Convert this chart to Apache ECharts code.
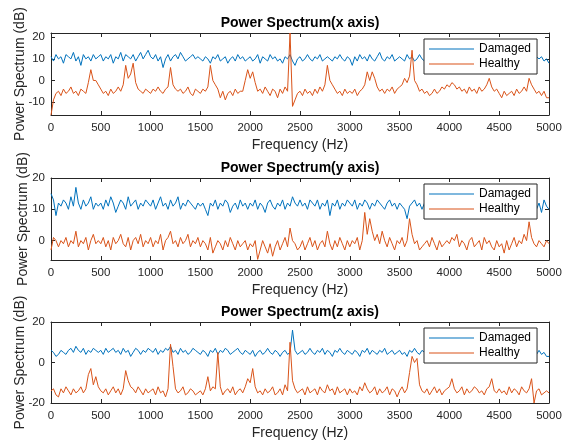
<!DOCTYPE html>
<html>
<head>
<meta charset="utf-8">
<script src="https://cdn.jsdelivr.net/npm/echarts@6/dist/echarts.min.js"></script>
<style>
  html, body { margin: 0; padding: 0; background: #fff; }
  #chart { width: 564px; height: 444px; }
</style>
</head>
<body>
<div id="chart"></div>
<script>
// frequency grid: one value every 25 Hz, 0 .. 5000 Hz
const FREQ_STEP = 25
const TITLES = ['Power Spectrum(x axis)', 'Power Spectrum(y axis)', 'Power Spectrum(z axis)']
const SERIES_NAMES = ['Damaged', 'Healthy']
const Y_TICKS = [[-10, 0, 10, 20], [0, 10, 20], [-20, 0, 20]]
const Y_RANGE = [[-16, 22], [-6.2, 20], [-20, 20]]

// x axis spectrum (dB)
const xDamaged = [
  11, 9, 12, 10, 11, 8, 12, 11, 10, 13, 9, 11, 7, 12, 10, 11, 9, 12, 10, 11,
  12, 9, 11, 10, 12, 8, 11, 10, 13, 9, 12, 11, 10, 12, 9, 11, 13, 10, 12, 14,
  11, 10, 12, 9, 11, 6, 10, 12, 9, 11, 12, 10, 13, 11, 9, 10, 11, 12, 10, 11,
  10, 9, 11, 10, 8, 11, 10, 12, 9, 10, 11, 8, 10, 11, 9, 12, 10, 11, 9, 10,
  11, 9, 10, 12, 8, 11, 10, 9, 12, 10, 11, 9, 10, 8, 11, 10, 12, 9, 7, 10,
  11, 9, 10, 12, 10, 9, 11, 10, 12, 9, 10, 11, 10, 9, 11, 10, 12, 10, 9, 11,
  10, 7, 11, 9, 12, 10, 11, 9, 12, 10, 9, 11, 13, 10, 9, 11, 10, 12, 9, 10,
  11, 10, 9, 12, 10, 11, 9, 10, 12, 10, 9, 11, 10, 12, 9, 11, 10, 12, 10, 11,
  10, 12, 9, 11, 10, 12, 9, 11, 10, 12, 9, 11, 10, 12, 10, 9, 11, 10, 12, 10,
  11, 9, 12, 10, 11, 9, 12, 10, 11, 10, 12, 9, 11, 10, 12, 11, 10, 11, 9, 10,
  8
]
const xHealthy = [
  -16, -9, -6, -5, -7, -4, -6, -5, -3, -6, -5, -7, -4, -5, -6, -1, 5, 0, 0, -2,
  -4, -6, -5, -7, -4, -6, -5, -3, -5, -2, 7, 1, 3, 8, -1, -4, -5, -6, -4, -5,
  -6, -4, -5, -3, -5, -6, -4, -3, 6, -2, -4, -5, -4, -6, -5, -3, -6, -7, -4, -5,
  -6, -4, -5, -3, 7, 0, -2, -4, -8, -5, -9, -6, -5, -7, -4, -6, -5, -5, 0, 5,
  1, 4, -1, -5, -4, -6, -3, -5, -7, -4, -5, -8, -4, -6, -3, -5, 22, -12, -9, -6,
  -5, -7, -4, -6, -5, -7, -4, -6, -3, -5, -2, 7, 0, -2, -4, -6, -5, -7, -4, -6,
  -5, -6, -4, -7, -5, -4, -2, 4, 0, 4, 1, -3, -5, -4, -6, -4, -5, -3, -6, -4,
  -3, -2, 1, -1, 2, 14, 0, -2, -5, -4, -6, -5, -7, -6, -4, -6, -5, -3, -4, -2,
  -3, -1, -2, -4, -3, -5, -4, -6, -3, -5, -4, -6, -3, -5, -4, -2, 1, -3, -5, -4,
  -6, -8, -5, -7, -6, -5, -7, -4, -6, -5, -3, -5, 1, -2, -4, -6, -5, -7, -5, -8,
  -8
]

// y axis spectrum (dB)
const yDamaged = [
  15, 13, 8, 12, 11, 13, 12, 10, 14, 11, 17, 12, 10, 13, 11, 12, 14, 10, 12, 11,
  12, 10, 13, 11, 14, 12, 9, 11, 13, 12, 10, 14, 11, 12, 13, 10, 12, 11, 13, 12,
  11, 13, 10, 12, 14, 11, 12, 10, 13, 11, 12, 14, 10, 12, 11, 13, 12, 11, 10, 12,
  11, 12, 10, 8, 12, 11, 13, 10, 12, 11, 13, 12, 9, 11, 12, 10, 13, 11, 12, 10,
  12, 11, 13, 10, 12, 11, 9, 12, 13, 11, 10, 12, 11, 13, 10, 12, 11, 14, 12, 11,
  13, 11, 12, 10, 13, 12, 11, 13, 10, 12, 11, 13, 8, 12, 11, 13, 10, 12, 11, 13,
  12, 11, 13, 10, 12, 11, 13, 12, 10, 12, 11, 13, 12, 11, 10, 12, 13, 11, 12, 10,
  12, 11, 10, 7, 11, 12, 13, 11, 12, 10, 12, 11, 13, 12, 11, 10, 12, 11, 13, 12,
  11, 12, 10, 13, 11, 12, 10, 12, 11, 13, 12, 10, 11, 12, 13, 11, 10, 12, 11, 13,
  12, 11, 13, 10, 12, 11, 12, 10, 13, 11, 12, 10, 11, 13, 12, 10, 12, 9, 13, 11,
  10
]
const yHealthy = [
  -3, 1, 0, -2, 0, -1, 1, -2, 0, -1, 3, -2, 0, -1, 1, -3, 0, 2, -1, 0,
  -1, 1, -2, 0, -3, 1, -1, 0, 2, -1, -2, 1, -3, 0, 1, -1, 2, -2, 0, -1,
  1, -2, 0, -1, 2, -3, 0, 1, 3, -1, 0, -2, 1, -1, 0, 2, -2, 0, -1, 1,
  -2, 0, -1, -3, 1, -4, -2, 0, -1, -3, 0, -2, 1, -1, -3, 0, -2, -1, 0, -3,
  -1, -2, 0, -6, -3, 0, -2, -4, -1, -5, -2, 0, -3, -1, 1, -2, 4, 0, -1, -3,
  -2, 0, -3, -1, 1, -2, 0, -3, -1, 0, -2, 3, -1, -3, 0, -2, 1, -1, -3, 0,
  -2, 0, -1, 1, -3, 0, 9, 2, 7, 3, 0, 2, -1, 3, 0, -2, 1, -1, -3, 0,
  -1, 1, -2, 0, 7, 2, -1, 0, -3, -2, -1, 0, -2, 1, -1, -3, 0, -2, -1, 0,
  -1, 1, 0, 2, -2, 0, -1, -3, 0, 1, -2, -1, 0, -3, 1, -1, 0, -2, -3, 0,
  -2, -1, -4, 0, -3, -1, 1, -2, 0, -1, 2, 0, 6, 1, -1, -2, 0, -1, -2, 0,
  -1
]

// z axis spectrum (dB)
const zDamaged = [
  6, 5, 3, 4, 6, 5, 4, 6, 7, 5, 8, 6, 5, 7, 4, 6, 5, 7, 6, 5,
  6, 4, 7, 5, 6, 7, 5, 6, 4, 7, 5, 6, 3, 5, 7, 6, 4, 6, 5, 7,
  6, 5, 7, 4, 6, 5, 7, 6, 8, 5, 6, 4, 7, 5, 6, 4, 5, 7, 6, 5,
  4, 6, 5, 3, 6, 5, 7, 4, 6, 5, 7, 6, 4, 5, 6, 7, 5, 4, 6, 5,
  4, 6, 3, 5, 6, 4, 5, 7, 5, 4, 6, 5, 3, 5, 6, 4, 5, 16, 6, 4,
  5, 6, 4, 5, 7, 5, 4, 6, 5, 7, 4, 6, 5, 3, 6, 5, 7, 5, 4, 6,
  5, 4, 6, 5, 3, 6, 5, 7, 4, 6, 5, 4, 6, 5, 7, 4, 5, 6, 4, 5,
  6, 4, 5, 3, 6, 5, 7, 5, 4, 6, 5, 6, 4, 5, 6, 4, 5, 6, 5, 4,
  5, 6, 4, 5, 6, 4, 5, 6, 5, 4, 6, 5, 4, 6, 5, 4, 6, 5, 4, 5,
  6, 4, 5, 6, 4, 5, 6, 5, 4, 6, 5, 4, 6, 5, 5, 4, 6, 4, 5, 3,
  3
]
const zHealthy = [
  -14, -13, -16, -17, -13, -15, -12, -14, -16, -13, -15, -14, -12, -15, -13, -6, -3, -11, -7, -12,
  -14, -15, -13, -16, -14, -12, -15, -13, -16, -13, -4, -9, -12, -13, -15, -12, -14, -16, -13, -15,
  -14, -13, -16, -12, -15, -14, -17, -13, 9, -2, -13, -15, -14, -12, -16, -15, -13, -14, -16, -15,
  -14, -16, -13, -7, -14, -12, -13, 5, -12, -16, -14, -13, -15, -12, -16, -14, -13, -15, -12, -8,
  -10, -3, -12, -15, -14, -16, -13, -15, -14, -12, -16, -15, -13, -16, -11, -14, 10, -9, -13, -15,
  -14, -13, -16, -12, -15, -14, -13, -16, -12, -14, -15, -11, -14, -13, -16, -12, -15, -14, -13, -16,
  -13, -15, -14, -16, -12, -14, -10, -13, -15, -14, -12, -16, -13, -15, -14, -12, -16, -13, -14, -17,
  -14, -12, -15, -13, -5, 3, 0, 2, -11, -14, -15, -13, -16, -14, -12, -15, -13, -16, -14, -13,
  -12, -8, -13, -15, -14, -12, -16, -13, -15, -14, -12, -13, -15, -14, -16, -13, -12, -8, -14, -15,
  -13, -15, -14, -16, -12, -15, -13, -14, -16, -12, -14, -15, -13, -8, -20, -14, -13, -16, -15, -14,
  -15
]

const PANELS = [[xDamaged, xHealthy], [yDamaged, yHealthy], [zDamaged, zHealthy]]
const COLORS = ['#0072BD', '#D95319']
const FONT = 'Liberation Sans, Arial, Helvetica, sans-serif'
const AXIS_COLOR = '#262626'
const GRID_TOP = [33, 178, 322]
const GRID_HEIGHT = [82, 82, 81]
const YNAME_GAP = [24, 21, 24]

const toPairs = arr => arr.map((v, i) => [i * FREQ_STEP, v])
const plain = v => String(v)

const grid = []
const xAxis = []
const yAxis = []
const series = []
const title = []
const legend = []

PANELS.forEach((pair, p) => {
  grid.push({ left: 51, right: 15, top: GRID_TOP[p], height: GRID_HEIGHT[p], outerBoundsMode: 'none', containLabel: false })

  title.push({
    text: TITLES[p],
    left: 300,
    top: GRID_TOP[p] - 17,
    textAlign: 'center',
    padding: 0,
    textStyle: { fontFamily: FONT, fontSize: 14, fontWeight: 'bold', color: '#000' }
  })

  const lineStyle = { color: AXIS_COLOR, width: 1 }
  // bottom axis with labels
  xAxis.push({
    gridIndex: p,
    type: 'value',
    min: 0,
    max: 5000,
    interval: 500,
    position: 'bottom',
    axisLine: { show: true, onZero: false, lineStyle },
    axisTick: { show: true, inside: true, length: 4, lineStyle },
    axisLabel: { fontFamily: FONT, fontSize: 11.5, color: AXIS_COLOR, margin: 7, formatter: plain },
    splitLine: { show: false },
    name: 'Frequency (Hz)',
    nameLocation: 'middle',
    nameGap: 23,
    nameMoveOverlap: false,
    nameTextStyle: { fontFamily: FONT, fontSize: 14, color: AXIS_COLOR }
  })
  // top axis, ticks only (box)
  xAxis.push({
    gridIndex: p,
    type: 'value',
    min: 0,
    max: 5000,
    interval: 500,
    position: 'top',
    axisLine: { show: true, onZero: false, lineStyle },
    axisTick: { show: true, inside: true, length: 4, lineStyle },
    axisLabel: { show: false },
    splitLine: { show: false }
  })
  yAxis.push({
    gridIndex: p,
    type: 'value',
    min: Y_RANGE[p][0],
    max: Y_RANGE[p][1],
    position: 'left',
    axisLine: { show: true, onZero: false, lineStyle },
    axisTick: { show: true, inside: true, length: 4, lineStyle, customValues: Y_TICKS[p] },
    axisLabel: { fontFamily: FONT, fontSize: 11.5, color: AXIS_COLOR, margin: 6, customValues: Y_TICKS[p], formatter: plain },
    splitLine: { show: false },
    name: 'Power Spectrum (dB)',
    nameLocation: 'middle',
    nameGap: YNAME_GAP[p],
    nameMoveOverlap: false,
    nameTextStyle: { fontFamily: FONT, fontSize: 14, color: AXIS_COLOR }
  })
  yAxis.push({
    gridIndex: p,
    type: 'value',
    min: Y_RANGE[p][0],
    max: Y_RANGE[p][1],
    position: 'right',
    axisLine: { show: true, onZero: false, lineStyle },
    axisTick: { show: true, inside: true, length: 4, lineStyle, customValues: Y_TICKS[p] },
    axisLabel: { show: false, customValues: Y_TICKS[p] },
    splitLine: { show: false }
  })

  pair.forEach((values, s) => {
    series.push({
      name: SERIES_NAMES[s],
      type: 'line',
      xAxisIndex: p * 2,
      yAxisIndex: p * 2,
      data: toPairs(values),
      symbol: 'none',
      color: COLORS[s],
      lineStyle: { width: 1, color: COLORS[s] },
      clip: true
    })
  })

  legend.push({
    data: SERIES_NAMES,
    orient: 'vertical',
    left: 424,
    top: GRID_TOP[p] + 6,
    icon: 'path://M0,0H45V1.2H0Z',
    itemWidth: 45,
    itemHeight: 14,
    itemGap: 3,
    padding: [4, 6, 4, 5],
    backgroundColor: '#fff',
    borderColor: AXIS_COLOR,
    borderWidth: 1,
    borderRadius: 0,
    selectedMode: false,
    textStyle: { fontFamily: FONT, fontSize: 12, color: '#000' }
  })
})

const chart = echarts.init(document.getElementById('chart'), null, { renderer: 'canvas' })
chart.setOption({
  animation: false,
  backgroundColor: '#fff',
  title,
  legend,
  grid,
  xAxis,
  yAxis,
  series
})
</script>
</body>
</html>
